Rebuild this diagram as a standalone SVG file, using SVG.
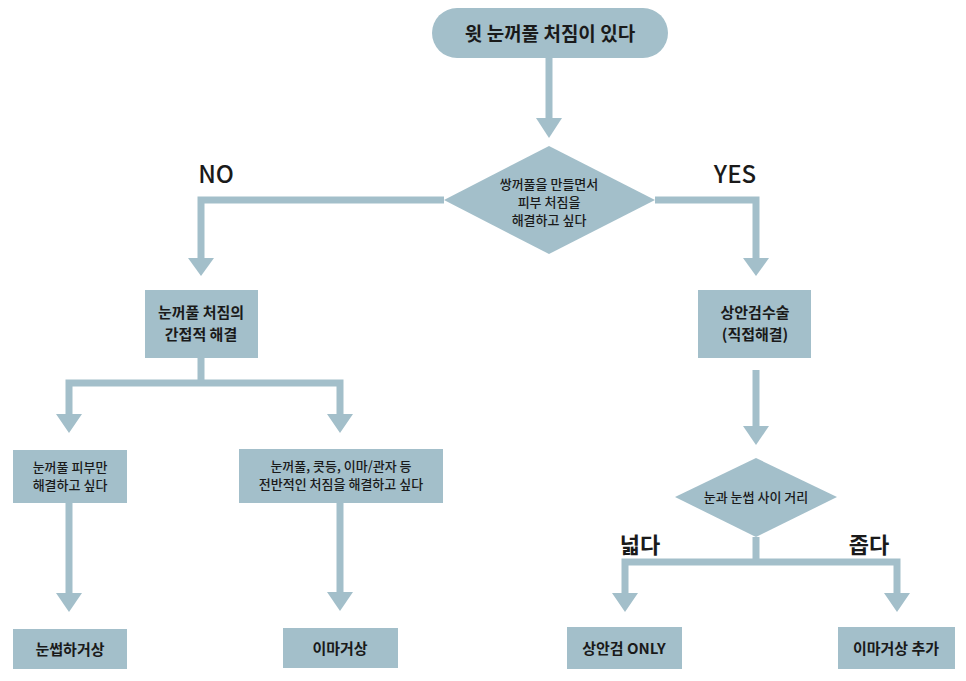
<svg xmlns="http://www.w3.org/2000/svg" width="966" height="681" viewBox="0 0 966 681">
<style>
.s{fill:#a3bfca}
.l{fill:none;stroke:#a3bfca;stroke-width:7}
text{font-family:"Noto Sans CJK KR","Noto Sans",sans-serif;fill:#1a1a1a;text-anchor:middle;font-weight:bold}
.t{font-size:13px;font-weight:500}
.m{font-size:15px}
.b{font-size:24px;font-weight:500}
</style>
<defs><marker id="a" markerUnits="userSpaceOnUse" markerWidth="26" markerHeight="20" refX="13" refY="0" orient="0" viewBox="0 0 26 20"><path d="M0,0H26L13,20Z" fill="#a3bfca"/></marker></defs>
<rect width="966" height="681" fill="#fff"/>
<g id="connectors">
<path class="l" d="M549,58V118"/><path class="s" d="M536,118H562L549,138Z"/>
<path class="l" d="M444,200H201V258"/><path class="s" d="M188,258H214L201,276Z"/>
<path class="l" d="M655,200H756V258"/><path class="s" d="M743,258H769L756,276Z"/>
<path class="l" d="M201,358V383M69,415V383H340V415"/><path class="s" d="M56,414H82L69,433Z M327,414H353L340,433Z"/>
<path class="l" d="M69,503V594"/><path class="s" d="M56,593H82L69,612Z"/>
<path class="l" d="M340,503V593"/><path class="s" d="M327,592H353L340,611Z"/>
<path class="l" d="M756,370V427"/><path class="s" d="M743,426H769L756,445Z"/>
<path class="l" d="M756,537V562M625,594V562H897V594"/><path class="s" d="M612,593H638L625,612Z M884,593H910L897,612Z"/>
</g>
<g id="start"><rect class="s" x="432" y="8" width="236" height="50" rx="25"/><text x="550" y="41" style="font-size:19px">윗 눈꺼풀 처짐이 있다</text></g>
<g id="d1"><path class="s" d="M549,146L655,200L549,254L444,200Z"/><text class="t" x="549" y="189">쌍꺼풀을 만들면서</text><text class="t" x="549" y="207">피부 처짐을</text><text class="t" x="549" y="225">해결하고 싶다</text></g>
<g id="no"><text class="b" x="216" y="183">NO</text></g>
<g id="yes"><text class="b" x="735" y="183">YES</text></g>
<g id="indirect"><rect class="s" x="145" y="290" width="113" height="68"/><text class="m" x="201" y="318">눈꺼풀 처짐의</text><text class="m" x="201" y="340">간접적 해결</text></g>
<g id="direct"><rect class="s" x="698" y="290" width="113" height="68"/><text class="m" x="755" y="318">상안검수술</text><text class="m" x="755" y="340">(직접해결)</text></g>
<g id="skin"><rect class="s" x="13" y="450" width="114" height="53"/><text class="t" x="70" y="472">눈꺼풀 피부만</text><text class="t" x="70" y="490">해결하고 싶다</text></g>
<g id="overall"><rect class="s" x="239" y="449" width="204" height="54"/><text class="t" x="341" y="471">눈꺼풀, 콧등, 이마/관자 등</text><text class="t" x="341" y="489">전반적인 처짐을 해결하고 싶다</text></g>
<g id="brow"><rect class="s" x="13" y="629" width="114" height="40"/><text class="m" x="70" y="655">눈썹하거상</text></g>
<g id="fore"><rect class="s" x="283" y="628" width="115" height="40"/><text class="m" x="340" y="654">이마거상</text></g>
<g id="d2"><path class="s" d="M756,458L837,497L756,537L675,497Z"/><text class="t" x="756" y="502">눈과 눈썹 사이 거리</text></g>
<g id="wide"><text x="640" y="553" style="font-size:22px">넓다</text></g>
<g id="narrow"><text x="869" y="553" style="font-size:22px">좁다</text></g>
<g id="only"><rect class="s" x="567" y="627" width="115" height="42"/><text class="m" x="624" y="654">상안검 ONLY</text></g>
<g id="add"><rect class="s" x="838" y="627" width="117" height="42"/><text class="m" x="896" y="654">이마거상 추가</text></g>
</svg>
